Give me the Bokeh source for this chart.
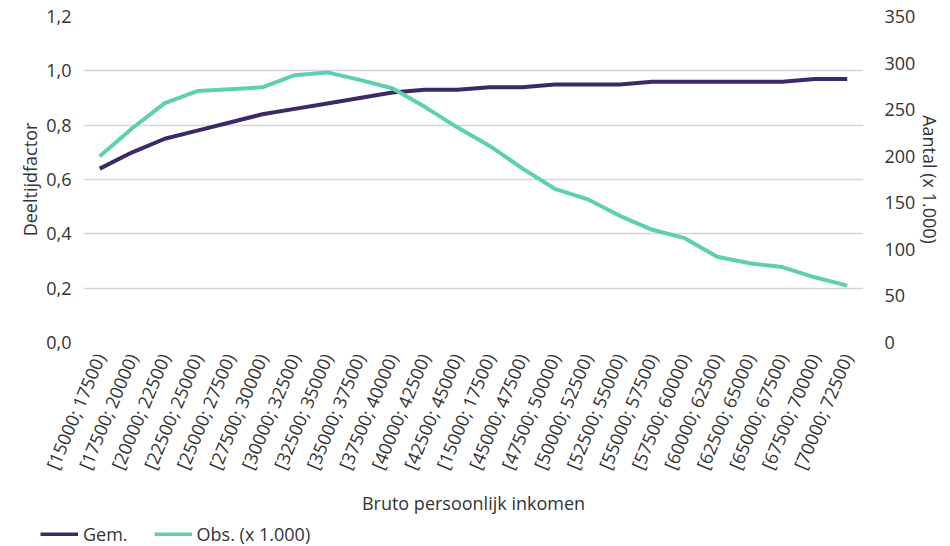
from bokeh.plotting import figure
from bokeh.layouts import column, row
from bokeh.models import (Range1d, LinearAxis, FixedTicker, Legend, LegendItem,
                          ColumnDataSource, CustomJSTickFormatter)
from bokeh.embed import file_html
from bokeh.resources import INLINE

categories = ["[15000; 17500)", "[17500; 20000)", "[20000; 22500)", "[22500; 25000)",
              "[25000; 27500)", "[27500; 30000)", "[30000; 32500)", "[32500; 35000)",
              "[35000; 37500)", "[37500; 40000)", "[40000; 42500)", "[42500; 45000)",
              "[15000; 17500)", "[45000; 47500)", "[47500; 50000)", "[50000; 52500)",
              "[52500; 55000)", "[55000; 57500)", "[57500; 60000)", "[60000; 62500)",
              "[62500; 65000)", "[65000; 67500)", "[67500; 70000)", "[70000; 72500)"]
gem = [0.64, 0.70, 0.75, 0.78, 0.81, 0.84, 0.86, 0.88, 0.90, 0.92, 0.93, 0.93,
       0.94, 0.94, 0.95, 0.95, 0.95, 0.96, 0.96, 0.96, 0.96, 0.96, 0.97, 0.97]
obs = [200, 230, 257, 270, 272, 274, 287, 290, 282, 273, 253, 231,
       211, 187, 165, 154, 136, 121, 112, 92, 85, 81, 70, 61]
left_ticks = [0.0, 0.2, 0.4, 0.6, 0.8, 1.0, 1.2]
right_ticks = [0, 50, 100, 150, 200, 250, 300, 350]
series_names = ["Gem.", "Obs. (x 1.000)"]

FONT = "Open Sans"
TXT = "#333333"
GEM_C = "#3d2966"
OBS_C = "#5cd0b0"
GRID_C = "#d6d2e0"

xs = list(range(len(categories)))

p = figure(width=945, height=518, output_backend="svg", toolbar_location=None,
           x_range=Range1d(-0.5, len(categories) - 0.5), y_range=Range1d(0, 1.2),
           min_border_left=83, min_border_right=72, min_border_top=16, min_border_bottom=176)
p.extra_y_ranges = {"aantal": Range1d(0, 350)}
p.outline_line_color = None
p.background_fill_color = "white"
p.border_fill_color = "white"

p.xgrid.visible = False
p.ygrid.grid_line_color = GRID_C
p.ygrid.grid_line_width = 1.5
p.ygrid.ticker = FixedTicker(ticks=left_ticks)

# left axis
ya = p.yaxis[0]
ya.ticker = FixedTicker(ticks=left_ticks)
ya.formatter = CustomJSTickFormatter(code="return tick.toFixed(1).replace('.', ',');")
ya.axis_label = "Deeltijdfactor"

# right axis
ra = LinearAxis(y_range_name="aantal", ticker=FixedTicker(ticks=right_ticks),
                axis_label="Aantal (x 1.000)")
p.add_layout(ra, "right")

# bottom axis
xa = p.xaxis[0]
xa.ticker = FixedTicker(ticks=xs)
xa.major_label_overrides = {i: c for i, c in enumerate(categories)}
xa.major_label_orientation = 1.17
xa.axis_label = "Bruto persoonlijk inkomen"

for ax in [ya, ra, xa]:
    ax.axis_line_color = None
    ax.major_tick_line_color = None
    ax.minor_tick_line_color = None
    ax.major_label_text_font = FONT
    ax.major_label_text_color = TXT
    ax.major_label_text_font_size = "18px"
    ax.axis_label_text_font = FONT
    ax.axis_label_text_color = TXT
    ax.axis_label_text_font_size = "18px"
    ax.axis_label_text_font_style = "normal"
xa.major_label_standoff = 6
ya.major_label_standoff = 6
ra.major_label_standoff = 15
ya.axis_label_standoff = 1
ra.axis_label_standoff = 0
xa.axis_label_standoff = 10

src = ColumnDataSource(dict(x=xs, gem=gem, obs=obs))
r_gem = p.line("x", "gem", source=src, line_color=GEM_C, line_width=4)
r_obs = p.line("x", "obs", source=src, line_color=OBS_C, line_width=4, y_range_name="aantal")

# legend strip below the chart (its swatch lines hold no drawable points)
lg = figure(width=945, height=28, output_backend="svg", toolbar_location=None,
            x_axis_type=None, y_axis_type=None,
            x_range=Range1d(0, 1), y_range=Range1d(0, 1),
            min_border_left=0, min_border_right=0, min_border_top=0, min_border_bottom=0)
lg.outline_line_color = None
lg.xgrid.visible = False
lg.ygrid.visible = False
lg_src = ColumnDataSource(dict(x=[float("nan")], y=[float("nan")]))
l_gem = lg.line("x", "y", source=lg_src, line_color=GEM_C, line_width=4)
l_obs = lg.line("x", "y", source=lg_src, line_color=OBS_C, line_width=4)

legend = Legend(items=[LegendItem(label=series_names[0], renderers=[l_gem]),
                       LegendItem(label=series_names[1], renderers=[l_obs])],
                orientation="horizontal", location=(40, 0),
                label_text_font=FONT, label_text_font_size="18px", label_text_color=TXT,
                glyph_width=38, glyph_height=4, label_standoff=5, spacing=26,
                padding=0, margin=0, border_line_color=None, background_fill_alpha=0)
lg.add_layout(legend, "center")

layout = column(p, row(lg, spacing=0), spacing=0)
open("out.html", "w").write(file_html(layout, INLINE))
